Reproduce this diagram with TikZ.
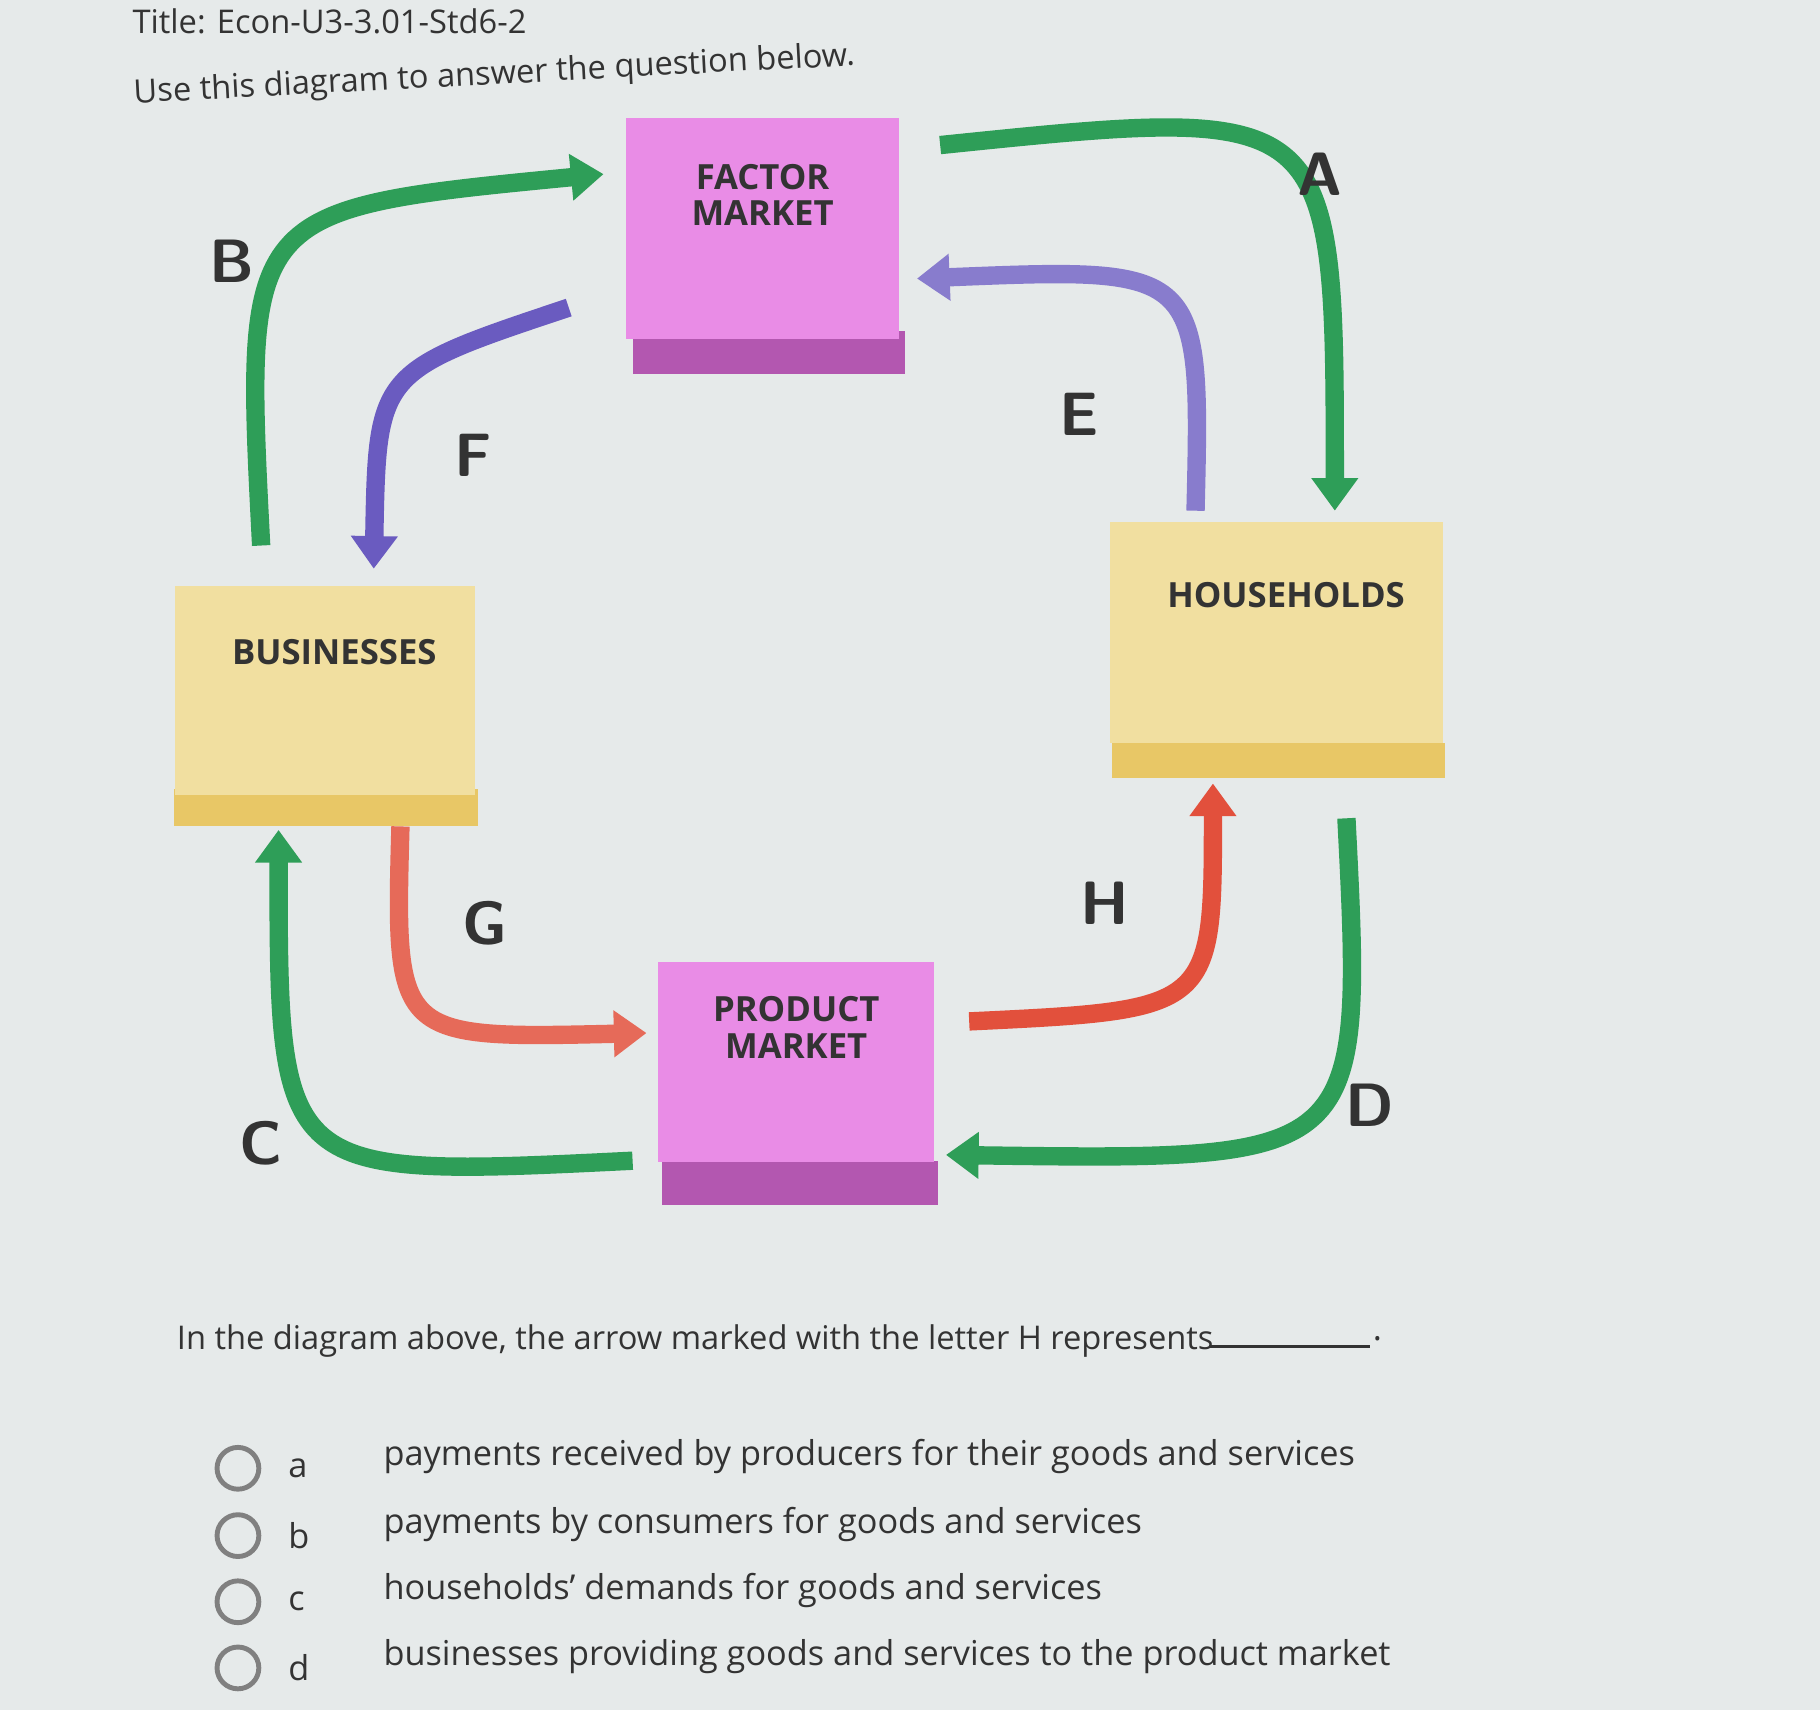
\documentclass[tikz,border=0pt]{standalone}
\usepackage{fontspec}
\setmainfont{Open Sans}
\usetikzlibrary{arrows.meta}
\definecolor{bg}{HTML}{E6EAEA}
\definecolor{pinkbox}{HTML}{E98CE6}
\definecolor{pinkdark}{HTML}{B357B0}
\definecolor{yelbox}{HTML}{F1DFA0}
\definecolor{yeldark}{HTML}{E8C766}
\definecolor{grn}{HTML}{2E9E58}
\definecolor{purp}{HTML}{6A5BC0}
\definecolor{redar}{HTML}{E2503C}
\definecolor{txt}{HTML}{333333}
\tikzset{
  flow/.style={line width=4.5pt,-{Triangle[length=8pt,width=11pt]}},
  lbl/.style={font=\sffamily\bfseries\fontsize{15}{15}\selectfont,text=txt},
  boxlbl/.style={font=\bfseries\fontsize{8.5}{9}\selectfont,text=txt,align=center},
  qtext/.style={font=\fontsize{8.4}{10}\selectfont,text=txt,anchor=west},
}
\begin{document}
\begin{tikzpicture}[x=0.01cm,y=-0.01cm]
\fill[bg] (0,0) rectangle (1568,1473);
\useasboundingbox (0,0) rectangle (1568,1473);
\node[qtext,font=\fontsize{8}{10}\selectfont,inner sep=1pt] (t1) at (110,18) {Title: Econ-U3-3.01-Std6-2};
\node[qtext,font=\fontsize{8}{10}\selectfont,rotate=3,anchor=south west,inner sep=1pt] (t2) at (112,100) {Use this diagram to answer the question below.};
% boxes
\fill[pinkdark] (545,285) rectangle (780,322);
\node[fill=pinkbox,minimum width=2.35cm,minimum height=1.9cm,inner sep=0] (fm) at (657,197) {};
\node[boxlbl] (fmt) at (657,168) {FACTOR\\MARKET};
\fill[pinkdark] (570,1000) rectangle (808,1038);
\node[fill=pinkbox,minimum width=2.38cm,minimum height=1.72cm,inner sep=0] (pm) at (686,915) {};
\node[boxlbl] (pmt) at (686,885) {PRODUCT\\MARKET};
\fill[yeldark] (150,680) rectangle (412,712);
\node[fill=yelbox,minimum width=2.58cm,minimum height=1.8cm,inner sep=0] (bu) at (280,595) {};
\node[boxlbl] (but) at (288,562) {BUSINESSES};
\fill[yeldark] (958,640) rectangle (1245,670);
\node[fill=yelbox,minimum width=2.87cm,minimum height=1.9cm,inner sep=0] (hh) at (1100,545) {};
\node[boxlbl] (hht) at (1108,513) {HOUSEHOLDS};
% coordinates
\coordinate (b0) at (225,470); \coordinate (b1) at (520,150);
\coordinate (a0) at (810,125); \coordinate (a1) at (1150,440);
\coordinate (f0) at (490,265); \coordinate (f1) at (322,490);
\coordinate (e0) at (1030,440); \coordinate (e1) at (790,240);
\coordinate (g0) at (345,712); \coordinate (g1) at (557,890);
\coordinate (h0) at (835,880); \coordinate (h1) at (1045,675);
\coordinate (c0) at (545,1000); \coordinate (c1) at (240,715);
\coordinate (d0) at (1160,705); \coordinate (d1) at (815,995);
\draw[flow,grn] (b0) .. controls (210,180) .. (b1);
\draw[flow,grn] (a0) .. controls (1150,90) .. (a1);
\draw[flow,purp] (f0) .. controls (325,320) .. (f1);
\draw[flow,purp!80] (e0) .. controls (1035,230) .. (e1);
\draw[flow,redar!85] (g0) .. controls (340,895) .. (g1);
\draw[flow,redar] (h0) .. controls (1045,870) .. (h1);
\draw[flow,grn] (c0) .. controls (240,1015) .. (c1);
\draw[flow,grn] (d0) .. controls (1175,1000) .. (d1);
\node[lbl] (lB) at (200,225) {B};
\node[lbl] (lA) at (1137,150) {A};
\node[lbl] (lF) at (408,392) {F};
\node[lbl] (lE) at (930,357) {E};
\node[lbl] (lG) at (418,795) {G};
\node[lbl] (lH) at (952,778) {H};
\node[lbl] (lC) at (225,985) {C};
\node[lbl] (lD) at (1180,952) {D};
% question
\node[qtext,font=\fontsize{8}{10}\selectfont] (q) at (140,1155) {In the diagram above, the arrow marked with the letter H represents};
\draw[txt,line width=0.6pt] (1042,1160) -- (1180,1160);
\node[qtext,inner sep=0] (qp) at (1182,1153) {.};
\foreach \y/\l/\t [count=\i] in {1265/a/payments received by producers for their goods and services,
  1323/b/payments by consumers for goods and services,
  1380/c/households' demands for goods and services,
  1437/d/businesses providing goods and services to the product market}{
  \draw[gray,line width=1.2pt] (205,\y) circle (18);
  \node[qtext] (o\i) at (236,\y) {\l};
  \node[qtext] (ot\i) at (318,\y-10) {\t};
}
\end{tikzpicture}
\end{document}
